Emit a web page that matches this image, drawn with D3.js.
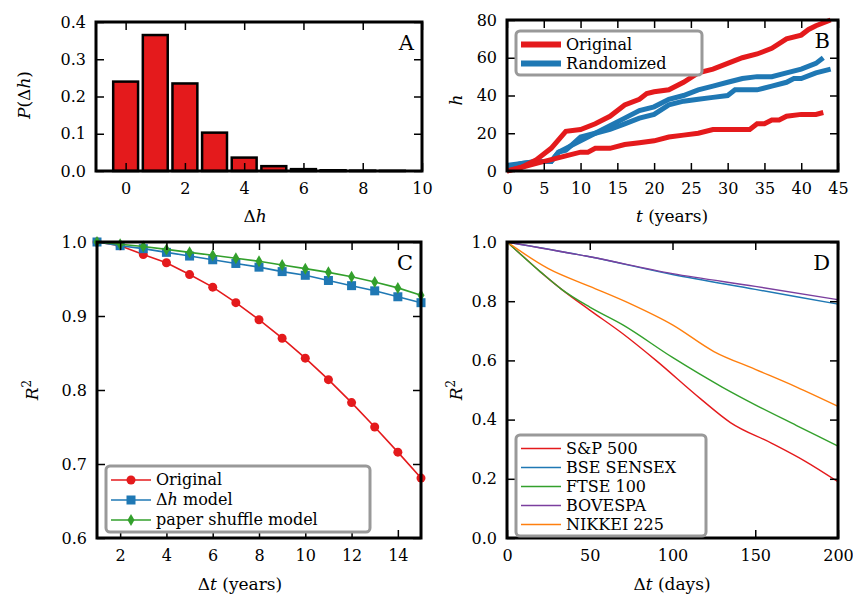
<!doctype html>
<html>
<head>
<meta charset="utf-8">
<script src="https://d3js.org/d3.v7.min.js"></script>
<style>
body{margin:0;background:#fff}
</style>
</head>
<body>
<svg width="853" height="602" style="font-family:'DejaVu Serif','Liberation Serif',serif"></svg>
<script>
// ---- data ----
var dhVals = [0,1,2,3,4,5,6,7,8,9];
var pDh = [0.24,0.365,0.235,0.103,0.036,0.013,0.005,0.002,0.001,0.0005];

var bOrigA = [[0,0],[2,2],[4,6],[5,9],[6,12],[8,21],[10,22],[12,25],[14,29],[16,35],[18,38],[19,41],[20,42],[22,43],[24,47],[26,52],[28,54],[30,57],[32,60],[34,62],[36,65],[38,70],[40,72],[41,75],[42,77],[44,80]];
var bOrigB = [[0,0],[2,2],[4,4],[6,6],[8,8],[10,10],[11,10],[12,12],[14,12],[16,14],[18,15],[20,16],[22,18],[24,19],[26,20],[28,22],[30,22],[33,22],[34,25],[35,25],[36,27],[37,27],[38,29],[40,30],[42,30],[43,31]];
var bRandA = [[0,3],[2,4],[4,5],[6,5],[7,10],[8,12],[10,16],[12,20],[14,24],[16,28],[18,32],[20,34],[22,38],[24,40],[26,43],[28,45],[30,47],[32,49],[34,50],[36,50],[38,52],[40,54],[42,57],[43,60]];
var bRandB = [[0,2],[2,4],[4,5],[6,5],[7,10],[8,11],[10,18],[12,20],[14,22],[16,25],[18,28],[20,30],[22,35],[24,37],[26,38],[28,39],[30,40],[31,43],[34,43],[36,45],[38,47],[39,49],[40,49],[42,52],[44,54]];

var cT = [1,2,3,4,5,6,7,8,9,10,11,12,13,14,15];
var cOrig = [1.0,0.995,0.983,0.972,0.956,0.939,0.918,0.895,0.870,0.843,0.814,0.783,0.750,0.716,0.681];
var cDh = [1.0,0.995,0.991,0.986,0.981,0.976,0.971,0.966,0.960,0.955,0.948,0.941,0.934,0.926,0.918];
var cShuf = [1.0,0.997,0.994,0.990,0.986,0.982,0.978,0.974,0.969,0.964,0.959,0.953,0.946,0.938,0.928];

var dSP = [[0,1],[10,0.95],[20,0.9],[33,0.84],[50,0.77],[70,0.69],[90,0.6],[117,0.47],[135,0.39],[160,0.32],[180,0.26],[200,0.19]];
var dBSE = [[0,1],[50,0.95],[100,0.89],[150,0.84],[200,0.79]];
var dFTSE = [[0,1],[20,0.9],[33,0.84],[50,0.78],[70,0.72],[100,0.61],[130,0.51],[150,0.45],[175,0.38],[200,0.31]];
var dBOV = [[0,1],[50,0.95],[100,0.893],[150,0.85],[200,0.805]];
var dNIK = [[0,1],[25,0.91],[50,0.85],[75,0.79],[100,0.72],[125,0.63],[150,0.57],[175,0.51],[200,0.445]];

var red="#e41a1c", blue="#1f78b4", green="#33a02c", purple="#7b3f9e", orange="#ff7f0e";
var SERIF = "'DejaVu Serif','Liberation Serif',serif";
var svg = d3.select("svg");

function txt(sel,size){ return sel.attr("font-family",SERIF).style("font-family",SERIF).style("font-size",size); }

function panel(o){
  var x = d3.scaleLinear().domain(o.xd).range([o.l,o.r]);
  var y = d3.scaleLinear().domain(o.yd).range([o.b,o.t]);
  var g = svg.append("g");
  var h = o.b-o.t, w = o.r-o.l;
  o.draw(g,x,y);
  g.append("g").attr("transform","translate(0,"+o.b+")")
    .call(d3.axisBottom(x).tickValues(o.xt).tickSize(-8).tickPadding(12).tickFormat(o.xf||d3.format("")));
  g.append("g").attr("transform","translate("+o.l+",0)")
    .call(d3.axisLeft(y).tickValues(o.yt).tickSize(-8).tickPadding(10).tickFormat(o.yf));
  g.append("g").attr("transform","translate(0,"+o.t+")")
    .call(d3.axisTop(x).tickValues(o.xt).tickSize(-8).tickFormat(""));
  g.append("g").attr("transform","translate("+o.r+",0)")
    .call(d3.axisRight(y).tickValues(o.yt).tickSize(-8).tickFormat(""));
  g.selectAll("g").attr("font-family",SERIF);
  g.selectAll(".domain").remove();
  g.selectAll(".tick line").attr("stroke","#000").attr("stroke-width",1.5);
  txt(g.selectAll(".tick text"),"16px").attr("fill","#000");
  g.append("rect").attr("x",o.l).attr("y",o.t).attr("width",w).attr("height",h)
    .attr("fill","none").attr("stroke","#000").attr("stroke-width",3);
  txt(g.append("text"),"21px").attr("x",o.r-8).attr("y",o.t+28).attr("text-anchor","end").text(o.letter);
  return g;
}

function legend(g,x0,y0,w,items,sw,dy){
  g.append("rect").attr("x",x0).attr("y",y0).attr("width",w).attr("height",items.length*dy+6)
    .attr("rx",4).attr("fill","#fff").attr("stroke","#999").attr("stroke-width",3);
  items.forEach(function(it,i){
    var yy=y0+dy/2+4+i*dy;
    g.append("line").attr("x1",x0+5).attr("x2",x0+45).attr("y1",yy).attr("y2",yy)
      .attr("stroke",it.c).attr("stroke-width",sw);
    if(it.m) it.m(g,x0+25,yy);
    txt(g.append("text"),"16px").attr("x",x0+50).attr("y",yy+5).html(it.t);
  });
}

function circ(g,cx,cy){ g.append("circle").attr("cx",cx).attr("cy",cy).attr("r",4.5).attr("fill",red); }
function sq(g,cx,cy){ g.append("rect").attr("x",cx-4.5).attr("y",cy-4.5).attr("width",9).attr("height",9).attr("fill",blue); }
function dia(g,cx,cy){ g.append("path").attr("d","M"+cx+","+(cy-6)+"L"+(cx+3.5)+","+cy+"L"+cx+","+(cy+6)+"L"+(cx-3.5)+","+cy+"Z").attr("fill",green); }
function label(x,y,html,rot){
  var t = txt(svg.append("text"),"17px").attr("text-anchor","middle").html(html);
  if(rot) t.attr("transform","translate("+x+","+y+") rotate(-90)"); else t.attr("x",x).attr("y",y);
}

// A
panel({l:96,r:422,t:22,b:171,xd:[-1,10],yd:[0,0.4],xt:[0,2,4,6,8,10],yt:[0,0.1,0.2,0.3,0.4],
  yf:d3.format(".1f"),letter:"A",
  draw:function(g,x,y){
    g.selectAll(".bar").data(dhVals).enter().append("rect")
      .attr("x",function(d){return x(d-0.42);}).attr("width",x(0.84)-x(0))
      .attr("y",function(d,i){return y(pDh[i]);}).attr("height",function(d,i){return y(0)-y(pDh[i]);})
      .attr("fill",red).attr("stroke","#000").attr("stroke-width",2.5);
  }});
label(255,222,"&#916;<tspan font-style='italic'>h</tspan>");
label(30,95,"<tspan font-style='italic'>P</tspan>(&#916;<tspan font-style='italic'>h</tspan>)",true);

// B
var gB = panel({l:507,r:838,t:20,b:171,xd:[0,45],yd:[0,80],xt:[0,5,10,15,20,25,30,35,40,45],yt:[0,20,40,60,80],
  yf:d3.format("d"),letter:"B",
  draw:function(g,x,y){
    var ln=d3.line().x(function(d){return x(d[0]);}).y(function(d){return y(d[1]);});
    [[bRandA,blue],[bRandB,blue],[bOrigA,red],[bOrigB,red]].forEach(function(s){
      g.append("path").datum(s[0]).attr("d",ln).attr("fill","none").attr("stroke",s[1]).attr("stroke-width",5);
    });
  }});
legend(gB,516,31,186,[{c:red,t:"Original"},{c:blue,t:"Randomized"}],6,19);
label(672,222,"<tspan font-style='italic'>t</tspan>  (years)");
label(462,100,"<tspan font-style='italic'>h</tspan>",true);

// C
var gC = panel({l:97,r:421,t:242,b:538,xd:[1,15],yd:[0.6,1.0],xt:[2,4,6,8,10,12,14],yt:[0.6,0.7,0.8,0.9,1.0],
  yf:d3.format(".1f"),letter:"C",
  draw:function(g,x,y){
    var ln=d3.line().x(function(d,i){return x(cT[i]);}).y(function(d){return y(d);});
    [[cOrig,red,circ],[cDh,blue,sq],[cShuf,green,dia]].forEach(function(s){
      g.append("path").datum(s[0]).attr("d",ln).attr("fill","none").attr("stroke",s[1]).attr("stroke-width",1.6);
      s[0].forEach(function(v,i){ s[2](g,x(cT[i]),y(v)); });
    });
  }});
legend(gC,106,466,264,[{c:red,t:"Original",m:circ},{c:blue,t:"&#916;<tspan font-style='italic'>h</tspan> model",m:sq},{c:green,t:"paper shuffle model",m:dia}],1.6,20);
label(240,590,"&#916;<tspan font-style='italic'>t</tspan>  (years)");
label(38,390,"<tspan font-style='italic'>R</tspan><tspan dy='-7' font-size='12'>2</tspan>",true);

// D
var gD = panel({l:507,r:838,t:242,b:538,xd:[0,200],yd:[0,1],xt:[0,50,100,150,200],yt:[0,0.2,0.4,0.6,0.8,1.0],
  yf:d3.format(".1f"),letter:"D",
  draw:function(g,x,y){
    var ln=d3.line().curve(d3.curveMonotoneX).x(function(d){return x(d[0]);}).y(function(d){return y(d[1]);});
    [[dSP,red],[dBSE,blue],[dFTSE,green],[dBOV,purple],[dNIK,orange]].forEach(function(s){
      g.append("path").datum(s[0]).attr("d",ln).attr("fill","none").attr("stroke",s[1]).attr("stroke-width",1.4);
    });
  }});
legend(gD,516,435,190,[{c:red,t:"S&amp;P 500"},{c:blue,t:"BSE SENSEX"},{c:green,t:"FTSE 100"},{c:purple,t:"BOVESPA"},{c:orange,t:"NIKKEI 225"}],1.6,19);
label(672,590,"&#916;<tspan font-style='italic'>t</tspan>  (days)");
label(462,390,"<tspan font-style='italic'>R</tspan><tspan dy='-7' font-size='12'>2</tspan>",true);
</script>
</body>
</html>
